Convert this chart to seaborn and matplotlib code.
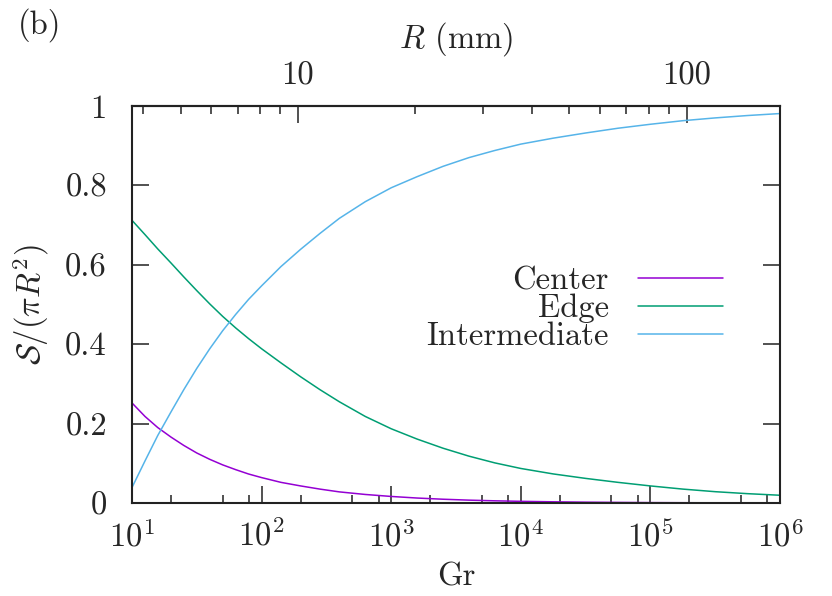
import numpy as np
import pandas as pd
import seaborn as sns
import matplotlib.pyplot as plt
from matplotlib.ticker import FixedLocator, FixedFormatter, LogLocator, NullFormatter

# Grashof numbers sampled along the curves
gr = [10, 12.6, 15.8, 20, 25.1, 31.6, 39.8, 50.1, 63.1, 79.4,
      100, 141, 200, 282, 398, 631, 1000, 1585, 2512, 3981,
      6310, 1e4, 17800, 31600, 56200, 1e5, 178000, 316000, 562000, 1e6]

# area fraction of each region
center = [0.252, 0.218, 0.190, 0.166, 0.145, 0.126, 0.110, 0.096, 0.084, 0.073,
          0.064, 0.052, 0.043, 0.035, 0.028, 0.0215, 0.0165, 0.0125, 0.0095, 0.0072,
          0.0055, 0.0042, 0.003, 0.0021, 0.0015, 0.001, 0.0007, 0.0005, 0.0003, 0.0002]
edge = [0.712, 0.676, 0.640, 0.6045, 0.5695, 0.535, 0.5015, 0.470, 0.441, 0.414,
        0.3885, 0.353, 0.318, 0.2855, 0.255, 0.218, 0.187, 0.161, 0.138, 0.118,
        0.101, 0.087, 0.0732, 0.062, 0.052, 0.043, 0.035, 0.0285, 0.0235, 0.0195]
intermediate = [0.039, 0.106, 0.170, 0.2295, 0.2855, 0.339, 0.3885, 0.434, 0.475, 0.513,
                0.547, 0.5955, 0.639, 0.679, 0.717, 0.759, 0.794, 0.822, 0.848, 0.870,
                0.888, 0.904, 0.919, 0.932, 0.944, 0.954, 0.963, 0.970, 0.976, 0.981]

regions = ['Center', 'Edge', 'Intermediate']
colors = ['#9400D3', '#009E73', '#56B4E9']

y_ticks = [0, 0.2, 0.4, 0.6, 0.8, 1]
y_ticklabels = ['0', '0.2', '0.4', '0.6', '0.8', '1']
r_major = [10, 100]
r_major_labels = ['10', '100']
r_minor = [4, 5, 6, 7, 8, 9, 20, 30, 40, 50, 60, 70, 80, 90]

# Gr = k * R^3 with R in mm
k_gr = 0.19


def gr_to_r(g):
    g = np.asarray(g, dtype=float)
    return np.cbrt(g / k_gr)


def r_to_gr(r):
    r = np.asarray(r, dtype=float)
    return k_gr * r ** 3


df = pd.DataFrame({
    'Gr': gr * 3,
    'S': center + edge + intermediate,
    'Region': [r for r in regions for _ in gr],
})

sns.set_style('ticks')
plt.rcParams['font.family'] = ['cmr10']
plt.rcParams['mathtext.fontset'] = 'cm'
plt.rcParams['axes.formatter.use_mathtext'] = True
plt.rcParams['axes.unicode_minus'] = False

fs = 23.5
fig = plt.figure(figsize=(8.32, 5.96), dpi=100)
ax = fig.add_axes([132 / 832, 93 / 596, 648 / 832, 397 / 596])

sns.lineplot(data=df, x='Gr', y='S', hue='Region', hue_order=regions,
             palette=dict(zip(regions, colors)), estimator=None, linewidth=1.1, ax=ax)

ax.set_xscale('log')
ax.set_xlim(10, 1e6)
ax.set_ylim(0, 1)
ax.set_yticks(y_ticks, y_ticklabels)
ax.xaxis.set_major_locator(LogLocator(base=10))
ax.xaxis.set_minor_locator(LogLocator(base=10, subs=[2, 5, 8]))
ax.xaxis.set_minor_formatter(NullFormatter())
ax.yaxis.set_minor_locator(FixedLocator([]))

ax.tick_params(which='major', direction='in', length=12, width=1.1,
               right=True, top=False, labelsize=fs, color='#222222')
ax.tick_params(axis='x', which='major', pad=12)
ax.tick_params(axis='y', which='major', pad=18)
ax.tick_params(which='minor', direction='in', length=6, width=1.1, top=False, color='#222222')

for sp in ax.spines.values():
    sp.set_visible(True)
    sp.set_linewidth(1.5)
    sp.set_color('#222222')

ax.set_xlabel('Gr', fontsize=fs, labelpad=7)
ax.set_ylabel(r'$\mathcal{S}/(\pi R^2)$', fontsize=fs, labelpad=10)

sec = ax.secondary_xaxis('top', functions=(gr_to_r, r_to_gr))
sec.xaxis.set_major_locator(FixedLocator(r_major))
sec.xaxis.set_major_formatter(FixedFormatter(r_major_labels))
sec.xaxis.set_minor_locator(FixedLocator(r_minor))
sec.xaxis.set_minor_formatter(NullFormatter())
sec.tick_params(which='major', direction='in', length=12, width=1.1, labelsize=fs,
                pad=11, color='#222222')
sec.tick_params(which='minor', direction='in', length=6, width=1.1, color='#222222')
sec.spines['top'].set_linewidth(1.5)
sec.set_xlabel('$R$ (mm)', fontsize=fs, labelpad=10)

ax.legend(loc='center right', bbox_to_anchor=(591 / 648, 0.49), frameon=False,
          markerfirst=False, handlelength=2.6, handletextpad=0.9,
          labelspacing=-0.04, borderpad=0, borderaxespad=0, fontsize=fs)

fig.text(18 / 832, 1 - 25 / 596, '(b)', fontsize=fs, va='center', ha='left')

fig.savefig('out.png', dpi=100)
